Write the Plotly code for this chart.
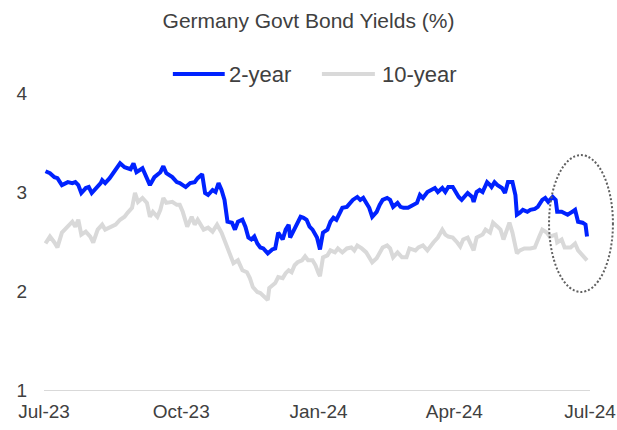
import plotly.graph_objects as go

title_text = "Germany Govt Bond Yields (%)"
series_names = ["2-year", "10-year"]
tick_dates = ["2023-07-01", "2023-10-01", "2024-01-01", "2024-04-01", "2024-07-01"]
tick_labels = ["Jul-23", "Oct-23", "Jan-24", "Apr-24", "Jul-24"]
y_ticks = [1, 2, 3, 4]

dates_2y = [
    "2023-07-02", "2023-07-05", "2023-07-08", "2023-07-10", "2023-07-13", "2023-07-15", "2023-07-17",
    "2023-07-20", "2023-07-22", "2023-07-24", "2023-07-26", "2023-07-29", "2023-07-31", "2023-08-02",
    "2023-08-04", "2023-08-08", "2023-08-09", "2023-08-11", "2023-08-14", "2023-08-18", "2023-08-21",
    "2023-08-24", "2023-08-28", "2023-08-30", "2023-09-01", "2023-09-05", "2023-09-08", "2023-09-10",
    "2023-09-13", "2023-09-17", "2023-09-19", "2023-09-21", "2023-09-25", "2023-09-28", "2023-09-30",
    "2023-10-04", "2023-10-07", "2023-10-10", "2023-10-12", "2023-10-15", "2023-10-17", "2023-10-19",
    "2023-10-22", "2023-10-24", "2023-10-26", "2023-10-28", "2023-10-30", "2023-11-01", "2023-11-04",
    "2023-11-06", "2023-11-08", "2023-11-11", "2023-11-13", "2023-11-15", "2023-11-17", "2023-11-19",
    "2023-11-21", "2023-11-23", "2023-11-25", "2023-11-28", "2023-12-01", "2023-12-03", "2023-12-05",
    "2023-12-08", "2023-12-10", "2023-12-12", "2023-12-13", "2023-12-15", "2023-12-18", "2023-12-20",
    "2023-12-22", "2023-12-24", "2023-12-26", "2023-12-28", "2023-12-31", "2024-01-02", "2024-01-04",
    "2024-01-07", "2024-01-09", "2024-01-11", "2024-01-13", "2024-01-15", "2024-01-17", "2024-01-20",
    "2024-01-22", "2024-01-24", "2024-01-27", "2024-01-29", "2024-01-31", "2024-02-02", "2024-02-04",
    "2024-02-06", "2024-02-09", "2024-02-11", "2024-02-13", "2024-02-16", "2024-02-18", "2024-02-20",
    "2024-02-23", "2024-02-25", "2024-02-27", "2024-03-01", "2024-03-04", "2024-03-07", "2024-03-09",
    "2024-03-11", "2024-03-14", "2024-03-17", "2024-03-19", "2024-03-21", "2024-03-24", "2024-03-26",
    "2024-03-28", "2024-03-31", "2024-04-02", "2024-04-04", "2024-04-06", "2024-04-10", "2024-04-13",
    "2024-04-14", "2024-04-16", "2024-04-18", "2024-04-20", "2024-04-23", "2024-04-25", "2024-04-26",
    "2024-04-28", "2024-04-30", "2024-05-03", "2024-05-05", "2024-05-07", "2024-05-10", "2024-05-12",
    "2024-05-13", "2024-05-15", "2024-05-17", "2024-05-20", "2024-05-22", "2024-05-25", "2024-05-27",
    "2024-05-30", "2024-06-01", "2024-06-03", "2024-06-06", "2024-06-08", "2024-06-09", "2024-06-12",
    "2024-06-16", "2024-06-19", "2024-06-21", "2024-06-23", "2024-06-26", "2024-06-28", "2024-06-29",
]
yield_2y = [
    3.21, 3.19, 3.15, 3.14, 3.07, 3.09, 3.10,
    3.09, 3.10, 3.07, 2.99, 3.04, 3.05, 2.99,
    3.02, 3.09, 3.12, 3.09, 3.14, 3.22, 3.29,
    3.25, 3.23, 3.29, 3.20, 3.24, 3.15, 3.07,
    3.15, 3.20, 3.26, 3.19, 3.15, 3.10, 3.09,
    3.05, 3.09, 3.10, 3.14, 3.18, 2.99, 2.97,
    3.02, 3.00, 3.09, 3.02, 2.92, 2.70, 2.69,
    2.62, 2.70, 2.72, 2.65, 2.54, 2.52, 2.55,
    2.48, 2.44, 2.43, 2.38, 2.42, 2.43, 2.59,
    2.52, 2.62, 2.67, 2.54, 2.60, 2.70, 2.75,
    2.74, 2.72, 2.65, 2.62, 2.54, 2.42, 2.59,
    2.62, 2.70, 2.74, 2.72, 2.79, 2.84, 2.85,
    2.89, 2.92, 2.95, 2.92, 2.94, 2.89, 2.84,
    2.75, 2.80, 2.87, 2.92, 2.94, 2.92, 2.85,
    2.89, 2.85, 2.84, 2.84, 2.87, 2.89, 2.97,
    2.94, 3.00, 3.02, 3.04, 3.00, 3.04, 3.00,
    3.05, 3.05, 3.00, 2.95, 2.92, 2.99, 2.95,
    2.90, 3.00, 3.02, 3.00, 3.10, 3.07, 3.05,
    3.10, 3.07, 3.04, 2.99, 3.10, 3.10, 2.97,
    2.77, 2.79, 2.82, 2.80, 2.82, 2.83, 2.85,
    2.92, 2.94, 2.90, 2.95, 2.92, 2.80, 2.80,
    2.77, 2.80, 2.82, 2.70, 2.69, 2.67, 2.55,
]

dates_10y = [
    "2023-07-02", "2023-07-05", "2023-07-08", "2023-07-10", "2023-07-13", "2023-07-15", "2023-07-17",
    "2023-07-20", "2023-07-22", "2023-07-24", "2023-07-26", "2023-07-29", "2023-08-01", "2023-08-03",
    "2023-08-06", "2023-08-09", "2023-08-11", "2023-08-14", "2023-08-18", "2023-08-21", "2023-08-24",
    "2023-08-26", "2023-08-29", "2023-08-31", "2023-09-02", "2023-09-05", "2023-09-08", "2023-09-10",
    "2023-09-12", "2023-09-15", "2023-09-17", "2023-09-19", "2023-09-21", "2023-09-25", "2023-09-28",
    "2023-09-30", "2023-10-02", "2023-10-05", "2023-10-08", "2023-10-10", "2023-10-12", "2023-10-16",
    "2023-10-19", "2023-10-22", "2023-10-25", "2023-10-28", "2023-11-01", "2023-11-03", "2023-11-05",
    "2023-11-08", "2023-11-11", "2023-11-14", "2023-11-16", "2023-11-18", "2023-11-21", "2023-11-23",
    "2023-11-26", "2023-11-28", "2023-11-29", "2023-12-03", "2023-12-05", "2023-12-08", "2023-12-10",
    "2023-12-12", "2023-12-14", "2023-12-16", "2023-12-18", "2023-12-21", "2023-12-23", "2023-12-25",
    "2023-12-28", "2023-12-30", "2024-01-01", "2024-01-02", "2024-01-04", "2024-01-07", "2024-01-09",
    "2024-01-12", "2024-01-14", "2024-01-17", "2024-01-20", "2024-01-23", "2024-01-25", "2024-01-27",
    "2024-01-30", "2024-02-02", "2024-02-06", "2024-02-09", "2024-02-13", "2024-02-16", "2024-02-18",
    "2024-02-20", "2024-02-23", "2024-02-26", "2024-02-29", "2024-03-02", "2024-03-06", "2024-03-08",
    "2024-03-11", "2024-03-14", "2024-03-18", "2024-03-21", "2024-03-24", "2024-03-26", "2024-03-28",
    "2024-03-31", "2024-04-03", "2024-04-05", "2024-04-07", "2024-04-10", "2024-04-14", "2024-04-16",
    "2024-04-20", "2024-04-22", "2024-04-25", "2024-04-27", "2024-04-30", "2024-05-02", "2024-05-04",
    "2024-05-06", "2024-05-08", "2024-05-10", "2024-05-13", "2024-05-15", "2024-05-18", "2024-05-22",
    "2024-05-25", "2024-05-28", "2024-05-30", "2024-06-02", "2024-06-04", "2024-06-08", "2024-06-09",
    "2024-06-12", "2024-06-14", "2024-06-18", "2024-06-21", "2024-06-23", "2024-06-26", "2024-06-29",
]
yield_10y = [
    2.48, 2.55, 2.49, 2.44, 2.59, 2.62, 2.65,
    2.70, 2.65, 2.72, 2.57, 2.60, 2.55, 2.49,
    2.62, 2.67, 2.62, 2.64, 2.67, 2.72, 2.75,
    2.79, 2.84, 2.99, 2.90, 2.94, 2.89, 2.75,
    2.80, 2.75, 2.82, 2.94, 2.89, 2.90, 2.87,
    2.87, 2.80, 2.65, 2.75, 2.67, 2.72, 2.62,
    2.64, 2.60, 2.67, 2.59, 2.44, 2.34, 2.28,
    2.31, 2.21, 2.19, 2.13, 2.04, 1.99, 1.98,
    1.94, 1.91, 2.03, 2.08, 2.14, 2.13, 2.18,
    2.21, 2.19, 2.26, 2.29, 2.31, 2.35, 2.31,
    2.31, 2.26, 2.18, 2.15, 2.34, 2.36, 2.41,
    2.39, 2.43, 2.39, 2.43, 2.44, 2.41, 2.46,
    2.43, 2.39, 2.29, 2.33, 2.44, 2.46, 2.43,
    2.34, 2.39, 2.34, 2.34, 2.43, 2.41, 2.44,
    2.46, 2.41, 2.49, 2.54, 2.62, 2.57, 2.55,
    2.54, 2.49, 2.45, 2.52, 2.54, 2.41, 2.54,
    2.57, 2.62, 2.59, 2.69, 2.65, 2.62, 2.52,
    2.62, 2.69, 2.59, 2.38, 2.41, 2.43, 2.43,
    2.44, 2.55, 2.62, 2.59, 2.55, 2.57, 2.49,
    2.52, 2.44, 2.44, 2.48, 2.41, 2.36, 2.31,
]

blue = "#0022FF"
grey = "#D9D9D9"
text_color = "#404040"
font_family = "Liberation Sans, Arial, sans-serif"

fig = go.Figure()
fig.add_trace(go.Scatter(x=dates_10y, y=yield_10y, mode="lines", name=series_names[1],
                         line=dict(color=grey, width=4), showlegend=False))
fig.add_trace(go.Scatter(x=dates_2y, y=yield_2y, mode="lines", name=series_names[0],
                         line=dict(color=blue, width=4), showlegend=False))

# manual legend (long line samples as in the reference)
legend_items = [(series_names[0], blue, 0.236, 0.331, 0.335),
                (series_names[1], grey, 0.509, 0.606, 0.616)]
for name, col, lx0, lx1, tx in legend_items:
    fig.add_shape(type="line", xref="paper", yref="paper", x0=lx0, x1=lx1, y0=1.064, y1=1.064,
                  line=dict(color=col, width=4))
    fig.add_annotation(text=name, xref="paper", yref="paper", x=tx, y=1.062,
                       xanchor="left", yanchor="middle", showarrow=False,
                       font=dict(size=22, color=text_color, family=font_family))

# dotted ellipse highlighting the latest move
fig.add_shape(type="circle", xref="paper", yref="paper", x0=0.925, x1=1.042, y0=0.33, y1=0.791,
              line=dict(color="#606060", width=2, dash="2px,2px"))

fig.update_layout(
    width=617, height=430,
    margin=dict(l=44, r=27, t=93, b=40, autoexpand=False),
    paper_bgcolor="white", plot_bgcolor="white",
    font=dict(family=font_family, color=text_color, size=19),
    title=dict(text=title_text, x=0.5, xref="container", y=1 - 21 / 430, yref="container",
               xanchor="center", yanchor="middle",
               font=dict(size=21, color=text_color, family=font_family)),
    showlegend=False,
)
fig.update_xaxes(type="date", range=[tick_dates[0], tick_dates[-1]], tickvals=tick_dates,
                 ticktext=tick_labels, showgrid=False, zeroline=False, showline=True,
                 linecolor="#D9D9D9", linewidth=1, ticks="outside", ticklen=4,
                 tickcolor="rgba(0,0,0,0)", tickfont=dict(size=19, color=text_color),
                 automargin=False)
fig.update_yaxes(range=[1, 4], tickvals=y_ticks, showgrid=False, zeroline=False, showline=False,
                 ticks="outside", ticklen=12, tickcolor="rgba(0,0,0,0)",
                 tickfont=dict(size=19, color=text_color), automargin=False)

fig.write_html("out.html", config={"displayModeBar": False},
               post_script="document.body.style.margin='0';")
